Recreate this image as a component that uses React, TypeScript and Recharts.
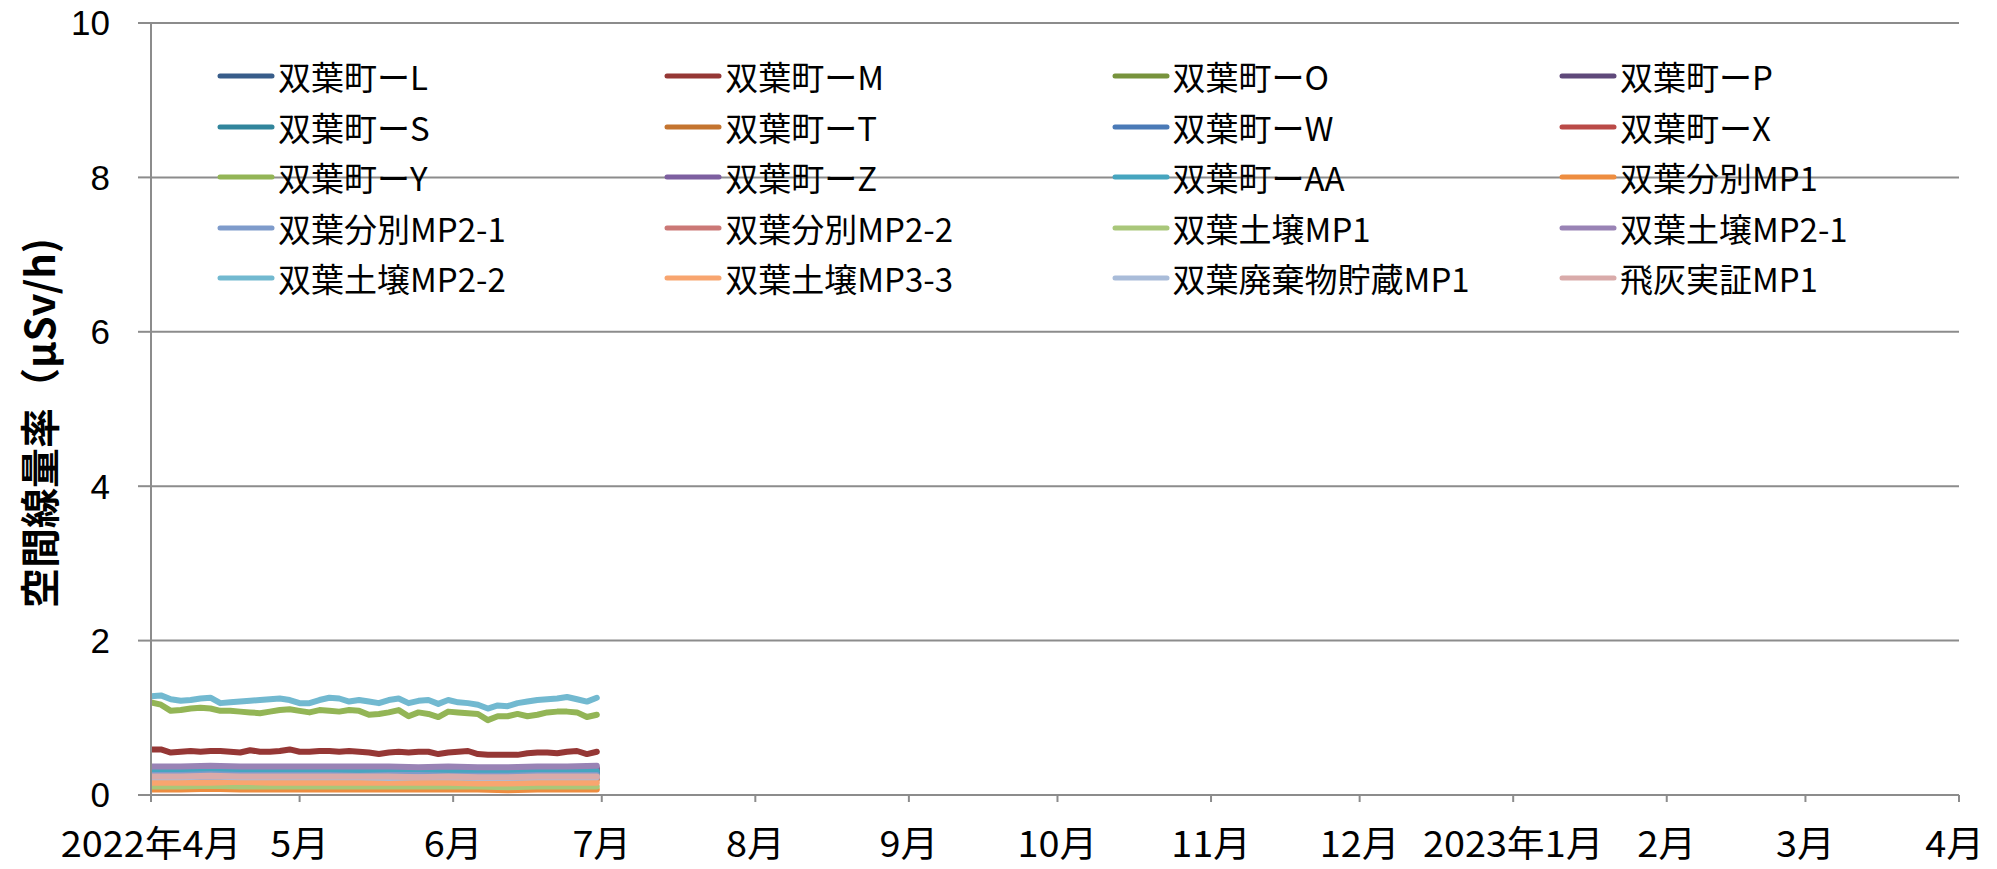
import React from 'react';
import { LineChart, Line, XAxis, YAxis, CartesianGrid, Legend } from 'recharts';

// ---- axis ticks ----
const monthTicks = [0, 30, 61, 91, 122, 153, 183, 214, 244, 275, 306, 334, 365];
const monthLabels = ['2022年4月', '5月', '6月', '7月', '8月', '9月', '10月', '11月', '12月', '2023年1月', '2月', '3月', '4月'];
const yTicks = [0, 2, 4, 6, 8, 10];

// ---- day offsets from 2022-04-01 ----
const daysFine = [0, 2, 4, 6, 8, 10, 12, 14, 16, 18, 20, 22, 24, 26, 28, 30, 32, 34, 36, 38, 40, 42, 44, 46, 48, 50, 52, 54, 56, 58, 60, 62, 64, 66, 68, 70, 72, 74, 76, 78, 80, 82, 84, 86, 88, 90];
const daysCoarse = [0, 6, 12, 18, 24, 30, 36, 42, 48, 54, 60, 66, 72, 78, 84, 90];

// ---- series names / colours ----
const seriesNames = [
  '双葉町ーL', '双葉町ーM', '双葉町ーO', '双葉町ーP',
  '双葉町ーS', '双葉町ーT', '双葉町ーW', '双葉町ーX',
  '双葉町ーY', '双葉町ーZ', '双葉町ーAA', '双葉分別MP1',
  '双葉分別MP2-1', '双葉分別MP2-2', '双葉土壌MP1', '双葉土壌MP2-1',
  '双葉土壌MP2-2', '双葉土壌MP3-3', '双葉廃棄物貯蔵MP1', '飛灰実証MP1',
];
const seriesColors = [
  '#385D8A', '#953735', '#77933C', '#5F497A',
  '#31859C', '#C4742F', '#4A7AB7', '#BA4A47',
  '#93B556', '#7D5FA0', '#46A5BF', '#EE8D40',
  '#7E9BCB', '#CB7876', '#A9C77A', '#9983B5',
  '#72B9D0', '#F8A56F', '#A9BCD9', '#D9ABAA',
];

// ---- values (μSv/h) ----
const valM = [0.59, 0.59, 0.55, 0.56, 0.57, 0.56, 0.57, 0.57, 0.56, 0.55, 0.58, 0.56, 0.56, 0.57, 0.59, 0.56, 0.56, 0.57, 0.57, 0.56, 0.57, 0.56, 0.55, 0.53, 0.55, 0.56, 0.55, 0.56, 0.56, 0.53, 0.55, 0.56, 0.57, 0.53, 0.52, 0.52, 0.52, 0.52, 0.54, 0.55, 0.55, 0.54, 0.56, 0.57, 0.53, 0.56];
const valY = [1.20, 1.17, 1.09, 1.10, 1.12, 1.13, 1.12, 1.09, 1.09, 1.08, 1.07, 1.06, 1.08, 1.10, 1.11, 1.09, 1.07, 1.10, 1.09, 1.08, 1.10, 1.09, 1.04, 1.05, 1.07, 1.10, 1.02, 1.07, 1.05, 1.01, 1.08, 1.07, 1.06, 1.05, 0.97, 1.02, 1.02, 1.05, 1.02, 1.04, 1.07, 1.08, 1.08, 1.07, 1.01, 1.04];
const valSoil22 = [1.28, 1.29, 1.24, 1.22, 1.23, 1.25, 1.26, 1.19, 1.20, 1.21, 1.22, 1.23, 1.24, 1.25, 1.23, 1.19, 1.19, 1.23, 1.26, 1.25, 1.21, 1.23, 1.21, 1.19, 1.23, 1.25, 1.19, 1.22, 1.23, 1.18, 1.23, 1.20, 1.19, 1.17, 1.12, 1.16, 1.15, 1.19, 1.21, 1.23, 1.24, 1.25, 1.27, 1.24, 1.21, 1.26];

const valL = [0.30, 0.30, 0.31, 0.30, 0.30, 0.31, 0.30, 0.30, 0.29, 0.30, 0.30, 0.29, 0.29, 0.30, 0.30, 0.30];
const valO = [0.27, 0.27, 0.28, 0.27, 0.27, 0.27, 0.26, 0.27, 0.27, 0.26, 0.27, 0.27, 0.26, 0.26, 0.27, 0.27];
const valP = [0.33, 0.33, 0.34, 0.33, 0.33, 0.33, 0.33, 0.32, 0.33, 0.33, 0.32, 0.32, 0.32, 0.33, 0.33, 0.33];
const valS = [0.31, 0.31, 0.31, 0.32, 0.31, 0.31, 0.31, 0.31, 0.30, 0.31, 0.31, 0.30, 0.30, 0.31, 0.31, 0.31];
const valT = [0.20, 0.20, 0.21, 0.20, 0.20, 0.20, 0.20, 0.20, 0.19, 0.20, 0.20, 0.19, 0.19, 0.20, 0.20, 0.20];
const valW = [0.29, 0.29, 0.29, 0.30, 0.29, 0.29, 0.29, 0.28, 0.29, 0.29, 0.28, 0.28, 0.28, 0.29, 0.29, 0.29];
const valX = [0.34, 0.34, 0.35, 0.34, 0.34, 0.34, 0.34, 0.34, 0.33, 0.34, 0.34, 0.33, 0.33, 0.34, 0.34, 0.34];
const valZ = [0.35, 0.35, 0.36, 0.35, 0.35, 0.35, 0.35, 0.35, 0.34, 0.35, 0.35, 0.34, 0.34, 0.35, 0.35, 0.35];
const valAA = [0.31, 0.31, 0.32, 0.31, 0.31, 0.31, 0.30, 0.31, 0.31, 0.30, 0.30, 0.30, 0.29, 0.30, 0.30, 0.31];
const valSep1 = [0.07, 0.07, 0.08, 0.07, 0.07, 0.07, 0.07, 0.07, 0.07, 0.07, 0.07, 0.07, 0.06, 0.07, 0.07, 0.07];
const valSep21 = [0.26, 0.26, 0.27, 0.26, 0.26, 0.26, 0.26, 0.25, 0.26, 0.26, 0.25, 0.25, 0.25, 0.26, 0.26, 0.26];
const valSep22 = [0.22, 0.22, 0.22, 0.23, 0.22, 0.22, 0.22, 0.22, 0.21, 0.22, 0.22, 0.21, 0.21, 0.22, 0.22, 0.22];
const valSoil1 = [0.11, 0.11, 0.12, 0.11, 0.11, 0.11, 0.11, 0.11, 0.11, 0.11, 0.11, 0.11, 0.10, 0.11, 0.11, 0.11];
const valSoil21 = [0.37, 0.37, 0.38, 0.37, 0.37, 0.37, 0.37, 0.37, 0.37, 0.36, 0.37, 0.36, 0.36, 0.37, 0.37, 0.38];
const valSoil33 = [0.16, 0.16, 0.16, 0.17, 0.16, 0.16, 0.16, 0.16, 0.16, 0.16, 0.16, 0.15, 0.15, 0.16, 0.16, 0.16];
const valWaste = [0.23, 0.23, 0.24, 0.23, 0.23, 0.23, 0.23, 0.23, 0.22, 0.23, 0.23, 0.22, 0.22, 0.23, 0.23, 0.23];
const valAsh = [0.24, 0.24, 0.25, 0.24, 0.24, 0.24, 0.24, 0.24, 0.24, 0.23, 0.24, 0.23, 0.23, 0.24, 0.24, 0.24];

const seriesValues = [
  valL, valM, valO, valP, valS, valT, valW, valX, valY, valZ, valAA, valSep1,
  valSep21, valSep22, valSoil1, valSoil21, valSoil22, valSoil33, valWaste, valAsh,
];

const toPoints = (vals: number[]) => {
  const days = vals.length === daysFine.length ? daysFine : daysCoarse;
  return vals.map((v, i) => ({ d: days[i], v }));
};

const FONT_JP = '"Noto Sans CJK JP", "Noto Sans", sans-serif';
const GRAY = '#8C8C8C';

const XTick = (props: any) => {
  const { x, y, payload } = props;
  const idx = monthTicks.indexOf(payload.value);
  const label = idx >= 0 ? monthLabels[idx] : '';
  const isLast = idx === monthTicks.length - 1;
  return (
    <g transform={`translate(${isLast ? x + 25 : x},${y + 37})`}>
      <text
        x={0}
        y={0}
        transform="scale(1.05,1)"
        textAnchor={isLast ? 'end' : 'middle'}
        dominantBaseline="central"
        fontSize={36}
        fontFamily={FONT_JP}
        fill="#000"
      >
        {label}
      </text>
    </g>
  );
};

const LegendGrid = () => (
  <div style={{ position: 'relative', width: 1997, height: 300, pointerEvents: 'none' }}>
    {seriesNames.map((name, i) => {
      const col = i % 4;
      const row = Math.floor(i / 4);
      const left = 217 + col * 447.3;
      const cy = 76 + row * 50.5;
      return (
        <div
          key={name}
          style={{
            position: 'absolute',
            left,
            top: cy - 22,
            height: 44,
            display: 'flex',
            alignItems: 'center',
            whiteSpace: 'nowrap',
          }}
        >
          <svg width={58} height={10} style={{ display: 'block' }}>
            <line x1={3} y1={5} x2={55} y2={5} stroke={seriesColors[i]} strokeWidth={5} strokeLinecap="round" />
          </svg>
          <span style={{ fontFamily: FONT_JP, fontSize: 33, color: '#000', marginLeft: 3, lineHeight: '44px' }}>{name}</span>
        </div>
      );
    })}
  </div>
);

const YLabel = () => (
  <text
    x={38}
    y={423}
    transform="rotate(-90 38 423)"
    textAnchor="middle"
    dominantBaseline="central"
    fontSize={40}
    fontWeight="bold"
    fontFamily={FONT_JP}
    fill="#000"
  >
    空間線量率（μSv/h)
  </text>
);

export default function App() {
  return (
    <div style={{ position: 'absolute', left: 0, top: 0, width: 1997, height: 869, background: '#fff' }}>
      <LineChart width={1997} height={869} margin={{ top: 23, right: 38, bottom: 0, left: 0 }}>
        <CartesianGrid horizontal vertical={false} stroke={GRAY} strokeWidth={2} />
        <XAxis
          dataKey="d"
          type="number"
          domain={[0, 365]}
          ticks={monthTicks}
          interval={0}
          height={74}
          allowDataOverflow
          axisLine={{ stroke: GRAY, strokeWidth: 2 }}
          tickLine={{ stroke: GRAY, strokeWidth: 2 }}
          tickSize={7}
          tickMargin={2}
          tick={<XTick />}
        />
        <YAxis
          type="number"
          domain={[0, 10]}
          ticks={yTicks}
          interval={0}
          width={151}
          axisLine={{ stroke: GRAY, strokeWidth: 2 }}
          tickLine={{ stroke: GRAY, strokeWidth: 2 }}
          tickSize={13}
          tickMargin={28}
          tick={{ fontSize: 35, fontFamily: '"Liberation Sans", Arial, sans-serif', fill: '#000' }}
          label={<YLabel />}
        />
        <Legend
          layout="horizontal"
          verticalAlign="middle"
          align="center"
          wrapperStyle={{ left: 0, top: 0, width: 1997, height: 300 }}
          content={<LegendGrid />}
        />
        {seriesNames.map((name, i) => (
          <Line
            key={name}
            name={name}
            data={toPoints(seriesValues[i])}
            dataKey="v"
            stroke={seriesColors[i]}
            strokeWidth={6}
            strokeLinecap="round"
            strokeLinejoin="round"
            dot={false}
            activeDot={false}
            isAnimationActive={false}
          />
        ))}
      </LineChart>
    </div>
  );
}
